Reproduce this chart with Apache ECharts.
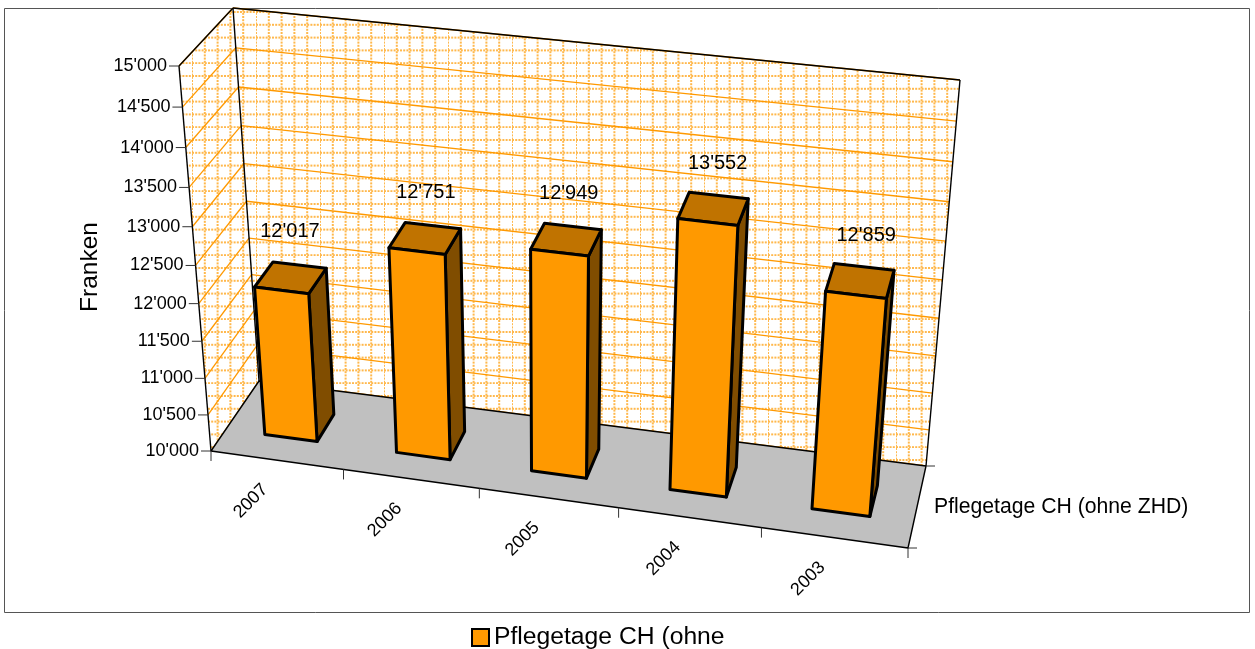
<!DOCTYPE html>
<html>
<head>
<meta charset="utf-8">
<style>
	html,body{margin:0;padding:0;background:#fff;}
	#main{width:1255px;height:649px;}
</style>
<script src="https://cdn.jsdelivr.net/npm/echarts@6/dist/echarts.min.js"></script>
</head>
<body>
<div id="main"></div>
<script>
var categories = ['2007','2006','2005','2004','2003'];
var values = [12017,12751,12949,13552,12859];
var valueLabels = ["12'017","12'751","12'949","13'552","12'859"];
var yTicks = [10000,10500,11000,11500,12000,12500,13000,13500,14000,14500,15000];
var yTickLabels = ["10'000","10'500","11'000","11'500","12'000","12'500","13'000","13'500","14'000","14'500","15'000"];
var yTitle = 'Franken';
var depthLabel = 'Pflegetage CH (ohne ZHD)';
var legendLabel = 'Pflegetage CH (ohne';

// corners of the 3d box on screen (x,y,z order in the names)
var P000 = [211,451], P100 = [908,548], P010 = [179,66], P110 = [942,150];
var P001 = [259,381], P101 = [926,466], P011 = [233,8], P111 = [960,80];
var WARP_X = 1.065, WARP_Y = 1.075, WARP_Z = 0.95;
var FONT = '"Liberation Sans", Arial, sans-serif';
var GRID_SIZE = 600;
var BAR_FRAC = 0.4, BAR_Z0 = 0.30, BAR_Z1 = 0.68, LABEL_Z = 0.46;

function warp(t,k){
	return t/(t+k*(1-t));
}
function mix(a,b,t){
	return [a[0]+(b[0]-a[0])*t,a[1]+(b[1]-a[1])*t];
}
function proj(x,y,z){
	var u = warp(x,WARP_X), v = warp(y,WARP_Y), w = warp(z,WARP_Z);
	var front = mix(mix(P000,P100,u),mix(P010,P110,u),v);
	var back = mix(mix(P001,P101,u),mix(P011,P111,u),v);
	return mix(front,back,w);
}
// hidden cartesian grid gives the scales, its unit square goes through proj
function norm(api,cat,val){
	var p = api.coord([cat,val]);
	return [p[0]/GRID_SIZE,1-p[1]/GRID_SIZE];
}

function makeTile(){
	var c = document.createElement('canvas');
	c.width = 64; c.height = 64;
	var g = c.getContext('2d');
	g.fillStyle = '#ffffff';
	g.fillRect(0,0,64,64);
	g.fillStyle = '#ffb84d';
	for(var i=0;i<5;i++){
		for(var k=0;k<20;k++){
			g.fillRect(i*12.8-1,k*3.2,2,2);
			g.fillRect(k*3.2,12+i*12.8-1,2,2);
		}
	}
	return c;
}
var wallFill = {image:makeTile(),repeat:'repeat'};

function poly(points,fill,stroke,lw){
	return {type:'polygon',shape:{points:points},style:{fill:fill,stroke:stroke,lineWidth:lw,lineJoin:'round'}};
}
function line(p,q,stroke,lw){
	return {type:'line',shape:{x1:p[0],y1:p[1],x2:q[0],y2:q[1]},style:{stroke:stroke,lineWidth:lw}};
}
function text(str,x,y,size,align,rot){
	return {type:'text',x:x,y:y,rotation:rot||0,style:{text:str,x:0,y:0,fill:'#000',font:size+'px '+FONT,align:align,verticalAlign:'middle'}};
}

function renderBox(params,api){
	return {type:'group',children:[
		poly([proj(0,0,0),proj(0,1,0),proj(0,1,1),proj(0,0,1)],wallFill,null,0),
		poly([proj(0,0,1),proj(0,1,1),proj(1,1,1),proj(1,0,1)],wallFill,null,0)
	]};
}
function renderGridLine(params,api){
	var y = norm(api,0,api.value(1))[1];
	return {type:'group',children:[
		line(proj(0,y,0),proj(0,y,1),'#ff9900',1.3),
		line(proj(0,y,1),proj(1,y,1),'#ff9900',1.3)
	]};
}
function renderFrame(params,api){
	var kids = [
		poly([proj(0,0,0),proj(1,0,0),proj(1,0,1),proj(0,0,1)],'#c0c0c0','#000',1.4),
		line(proj(0,0,0),proj(0,1,0),'#000',1.4),
		line(proj(0,0,1),proj(0,1,1),'#000',1.4),
		line(proj(0,1,0),proj(0,1,1),'#000',1.4),
		line(proj(0,1,1),proj(1,1,1),'#000',1.4),
		line(proj(1,1,1),proj(1,0,1),'#000',1.4)
	];
	// ticks on the depth axis
	var p = proj(1,0,0), q = proj(1,0,1);
	kids.push(line(p,[p[0]+9,p[1]],'#333',1));
	kids.push(line(q,[q[0]+9,q[1]],'#333',1));
	kids.push(text(depthLabel,934,507,21.2,'left'));
	kids.push(text(yTitle,90,267,24.5,'center',Math.PI/2));
	return {type:'group',children:kids};
}
function renderYTick(params,api){
	var y = norm(api,0,api.value(1))[1];
	var p = proj(0,y,0);
	return {type:'group',children:[
		line(p,[p[0]-10,p[1]],'#333',1),
		text(yTickLabels[params.dataIndex],p[0]-12,p[1],18,'right')
	]};
}
function renderXTick(params,api){
	var i = api.value(0);
	var band = api.size([1,0])[0]/GRID_SIZE;
	var xc = norm(api,i,10000)[0];
	var kids = [];
	var p = proj(xc+band/2,0,0);
	kids.push(line(p,[p[0],p[1]+10],'#333',1));
	if(i==0){
		var s = proj(0,0,0);
		kids.push(line(s,[s[0],s[1]+10],'#333',1));
	}
	var m = proj(xc,0,0);
	kids.push(text(categories[i],m[0]-26,m[1]+41,18,'center',Math.PI/4));
	return {type:'group',children:kids};
}
function renderBar(params,api){
	var i = api.value(0);
	var n = norm(api,i,api.value(1));
	var base = norm(api,i,10000);
	var half = api.size([1,0])[0]/GRID_SIZE*BAR_FRAC/2;
	var x0 = n[0]-half, x1 = n[0]+half, y0 = base[1], y1 = n[1];
	var stroke = '#000', lw = 3;
	return {type:'group',children:[
		poly([proj(x1,y0,BAR_Z0),proj(x1,y0,BAR_Z1),proj(x1,y1,BAR_Z1),proj(x1,y1,BAR_Z0)],'#804d00',stroke,lw),
		poly([proj(x0,y1,BAR_Z0),proj(x1,y1,BAR_Z0),proj(x1,y1,BAR_Z1),proj(x0,y1,BAR_Z1)],'#c07300',stroke,lw),
		poly([proj(x0,y0,BAR_Z0),proj(x1,y0,BAR_Z0),proj(x1,y1,BAR_Z0),proj(x0,y1,BAR_Z0)],'#ff9900',stroke,lw)
	]};
}
function renderValueLabel(params,api){
	var i = api.value(0);
	var n = norm(api,i,api.value(1));
	var p = proj(n[0]*1.01,n[1],LABEL_Z);
	return text(valueLabels[i],p[0],p[1]-48,20,'center');
}

var barData = values.map(function(v,i){ return [i,v]; });
var tickData = yTicks.map(function(v){ return [0,v]; });
var xTickData = categories.map(function(c,i){ return [i,10000]; });

function layer(name,render,data,z){
	return {name:name,type:'custom',renderItem:render,data:data,clip:false,silent:true,z:z,
		encode:{x:0,y:1},itemStyle:{color:'#ff9900',borderColor:'#000',borderWidth:2.5}};
}

var myChart = echarts.init(document.getElementById('main'),null,{renderer:'canvas'});
myChart.setOption({
	animation:false,
	backgroundColor:'#ffffff',
	grid:{left:0,top:0,width:GRID_SIZE,height:GRID_SIZE,show:false},
	xAxis:{type:'category',data:categories,show:false},
	yAxis:{type:'value',min:10000,max:15000,interval:500,show:false},
	legend:{
		data:[{name:legendLabel,icon:'rect'}],
		left:466,top:620,padding:5,
		itemWidth:17,itemHeight:17,itemGap:4,
		selectedMode:false,
		textStyle:{fontFamily:FONT,fontSize:24.7,color:'#000',padding:[0,0,0,0]}
	},
	graphic:[{type:'rect',shape:{x:4.5,y:8.5,width:1245,height:604},style:{fill:'none',stroke:'#555',lineWidth:1},z:-1}],
	series:[
		layer('box',renderBox,[[0,10000]],1),
		layer('grid',renderGridLine,tickData,2),
		layer('frame',renderFrame,[[0,10000]],3),
		layer('ytick',renderYTick,tickData,4),
		layer('xtick',renderXTick,xTickData,4),
		layer(legendLabel,renderBar,barData,5),
		layer('labels',renderValueLabel,barData,6)
	]
});
</script>
</body>
</html>
